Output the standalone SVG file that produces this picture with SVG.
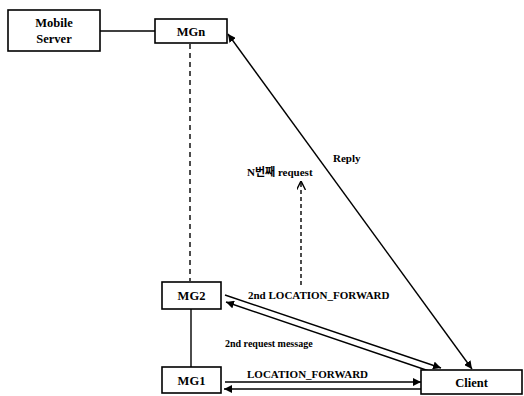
<svg xmlns="http://www.w3.org/2000/svg" width="524" height="396" viewBox="0 0 524 396">
<style>
.box{fill:#fff;stroke:#000;stroke-width:1.6}
.ln{stroke:#000;stroke-width:1.4;fill:none}
.t{font-weight:bold;fill:#000}
.nt{font-size:12.5px}
.lt{font-size:11px}
</style>
<defs>
<marker id="ah" viewBox="0 0 10 10" refX="10" refY="5" markerWidth="8" markerHeight="8" markerUnits="userSpaceOnUse" orient="auto-start-reverse">
<path d="M0,0 L10,5 L0,10 Z" fill="#000"/>
</marker>
<marker id="oh" viewBox="0 0 10 10" refX="10" refY="5" markerWidth="9" markerHeight="9" markerUnits="userSpaceOnUse" orient="auto">
<path d="M0,0 L10,5 L0,10" fill="none" stroke="#000" stroke-width="1.6"/>
</marker>
</defs>
<g id="connectors">
<line class="ln" x1="100" y1="31" x2="155" y2="31"/>
<line class="ln" x1="190" y1="44" x2="190" y2="281" stroke-dasharray="5,4"/>
<line class="ln" x1="191" y1="309" x2="191" y2="367"/>
<line class="ln" x1="228" y1="34" x2="472" y2="369" stroke-width="2" marker-start="url(#ah)" marker-end="url(#ah)"/>
<line class="ln" x1="301" y1="285" x2="301" y2="181" stroke-dasharray="4,3" marker-end="url(#oh)"/>
<line class="ln" x1="225" y1="295" x2="441" y2="368" marker-end="url(#ah)"/>
<line class="ln" x1="432" y1="372" x2="226" y2="302" marker-end="url(#ah)"/>
<line class="ln" x1="225" y1="382" x2="421" y2="382" marker-end="url(#ah)"/>
<line class="ln" x1="421" y1="389" x2="224" y2="389" marker-end="url(#ah)"/>
</g>
<g font-family="'Liberation Serif', 'Noto Sans CJK KR', serif">
<g id="mobile-server">
<rect class="box" x="8" y="10" width="92" height="41"/>
<text class="t nt" x="54" y="27" text-anchor="middle">Mobile</text>
<text class="t nt" x="54" y="43" text-anchor="middle">Server</text>
</g>
<g id="mgn">
<rect class="box" x="155" y="19" width="72" height="24"/>
<text class="t nt" x="191" y="35.5" text-anchor="middle">MGn</text>
</g>
<g id="mg2">
<rect class="box" x="162" y="282" width="59" height="27"/>
<text class="t nt" x="191.5" y="300" text-anchor="middle">MG2</text>
</g>
<g id="mg1">
<rect class="box" x="162" y="367" width="59" height="26"/>
<text class="t nt" x="191.5" y="384.5" text-anchor="middle">MG1</text>
</g>
<g id="client">
<rect class="box" x="421" y="370" width="101" height="24"/>
<text class="t nt" x="471.5" y="386.5" text-anchor="middle">Client</text>
</g>
<g id="labels">
<text class="t lt" x="333" y="162">Reply</text>
<text class="t lt" x="247" y="176">N번째 request</text>
<text class="t lt" x="248" y="299">2nd LOCATION_FORWARD</text>
<text class="t" font-size="10" x="225" y="347">2nd  request message</text>
<text class="t lt" x="247" y="378">LOCATION_FORWARD</text>
</g>
</g>
</svg>
